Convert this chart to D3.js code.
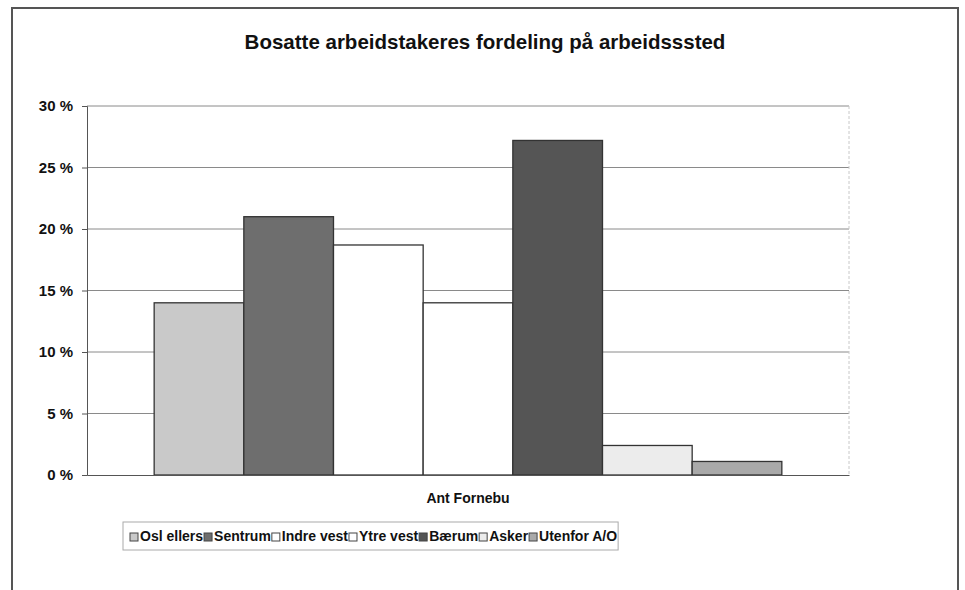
<!DOCTYPE html>
<html>
<head>
<meta charset="utf-8">
<script src="https://cdn.jsdelivr.net/npm/d3@7"></script>
<style>
  body { margin: 0; background: #fff; }
  text { font-family: "Liberation Sans", Arial, sans-serif; font-weight: bold; fill: #111; }
</style>
</head>
<body>
<svg id="chart" width="965" height="590"></svg>
<script>
var categories = ["Ant Fornebu"]
var series = ["Osl ellers", "Sentrum", "Indre vest", "Ytre vest", "Bærum", "Asker", "Utenfor A/O"]
var values = [14.0, 21.0, 18.7, 14.0, 27.2, 2.4, 1.1]
var colors = ["#c9c9c9", "#6e6e6e", "#ffffff", "#ffffff", "#555555", "#ececec", "#a9a9a9"]
var yTicks = [0, 5, 10, 15, 20, 25, 30]

var svg = d3.select('#chart')
var plotLeft = 87, plotRight = 849, plotTop = 106, plotBottom = 475

// outer frame
svg.append("rect").attr("x", 12).attr("y", 8).attr("width", 946).attr("height", 600)
  .style("fill", "none").style("stroke", "#555").style("stroke-width", 2)

svg.append("text").attr("x", 485).attr("y", 44).attr("text-anchor", "middle")
  .attr("dominant-baseline", "middle").style("font-size", "20.5px")
  .text("Bosatte arbeidstakeres fordeling på arbeidsssted")

var y = d3.scaleLinear().domain([0, 30]).range([plotBottom, plotTop])
var x0 = d3.scaleBand().domain(categories).range([plotLeft, plotRight]).paddingOuter(0.107).paddingInner(0)
var x1 = d3.scaleBand().domain(series).range([0, x0.bandwidth()]).padding(0)

// gridlines
svg.append("g").selectAll("line").data(yTicks.slice(1)).join("line")
  .attr("x1", plotLeft).attr("x2", plotRight).attr("y1", d => y(d)).attr("y2", d => y(d))
  .style("stroke", "#8a8a8a").style("stroke-width", 1)
svg.append("line").attr("x1", plotRight).attr("x2", plotRight).attr("y1", plotTop).attr("y2", plotBottom)
  .style("stroke", "#c8c8c8").style("stroke-dasharray", "3,2")

// bars
svg.append("g").selectAll("rect").data(values).join("rect")
  .attr("x", (d, i) => x0(categories[0]) + x1(series[i]))
  .attr("y", d => y(d))
  .attr("width", x1.bandwidth())
  .attr("height", d => plotBottom - y(d))
  .style("fill", (d, i) => colors[i])
  .style("stroke", "#333").style("stroke-width", 1.3)

// y axis
var yAxis = svg.append("g").attr("transform", "translate(" + plotLeft + ",0)")
  .call(d3.axisLeft(y).tickValues(yTicks).tickSize(5).tickPadding(9).tickFormat(d => d + " %"))
yAxis.select(".domain").style("stroke", "#555")
yAxis.selectAll(".tick line").style("stroke", "#555")
yAxis.selectAll("text").style("font-size", "15px").style("font-family", "Liberation Sans, Arial").style("fill", "#111")

// x axis
var xAxis = svg.append("g").attr("transform", "translate(0," + plotBottom + ")")
  .call(d3.axisBottom(x0).tickSize(0).tickPadding(18))
xAxis.select(".domain").style("stroke", "#555")
xAxis.selectAll("text").style("font-size", "14px").style("font-family", "Liberation Sans, Arial").style("fill", "#111")

// legend
var legend = svg.append("g")
var lx = 130
series.forEach(function (s, i) {
  legend.append("rect").attr("x", lx).attr("y", 533).attr("width", 8).attr("height", 8)
    .style("fill", colors[i]).style("stroke", "#444").style("stroke-width", 1)
  var t = legend.append("text").attr("x", lx + 10).attr("y", 537).attr("dominant-baseline", "middle")
    .style("font-size", "14px").text(s)
  lx += 10 + t.node().getComputedTextLength() + 1
})
legend.insert("rect", ":first-child").attr("x", 123).attr("y", 522).attr("width", lx - 123).attr("height", 28)
  .style("fill", "#fff").style("stroke", "#aaa").style("stroke-width", 1)
</script>
</body>
</html>
